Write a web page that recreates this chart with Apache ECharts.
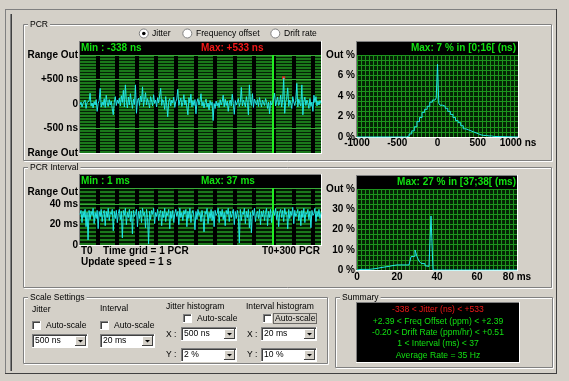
<!DOCTYPE html>
<html><head><meta charset="utf-8"><title>PCR</title>
<script src="https://cdn.jsdelivr.net/npm/echarts@6.0.0/dist/echarts.min.js"></script>
<style>html,body{margin:0;padding:0;background:#d4d0c8;overflow:hidden}#chart{width:569px;height:381px}</style>
</head><body><div id="chart"></div><script>
// ---- data ----
const jitterNs = [
 -20, 40, -60, 10, -30, 80, -90, 30, -10, 60, 220, -40, 20, -80, 50, -20, 90, -150, 10, 70,
 320, -60, 40, -30, 110, -70, 180, 20, -50, 90, -20, 60, -100, -220, 40, 150, -30, 80, 10, 120,
 -40, 170, 30, 280, -60, 390, 60, -80, 140, -20, 210, 40, -90, 100, -10, 390, -190, 70, 120, -30,
 160, 40, 350, -50, 90, 230, -20, 110, 30, -80, 150, 60, -40, 190, 10, 80, -60, 130, 20, 60,
 320, -30, 90, 40, -110, 150, -20, -260, 60, 110, -40, 80, 20, 140, -70, 50, 100, 300, -30, 60,
 120, -50, 30, 190, -20, 80, 40, -220, 130, 20, 200, -60, 70, -30, 90, -200, 40, 110, -20, 60,
 210, -40, 50, -80, 30, 100, -60, 20, -120, 70, -30, 40, -338, 10, -90, 60, -40, 30, -70, 90,
 -20, 50, 180, -60, 100, -30, 60, -150, 20, 80, -40, 200, 10, -210, 70, -20, 40, 110, -50, 30,
 340, -40, 80, 20, -60, 150, 30, -220, 390, 60, -30, 210, -70, 100, 40, -20, 90, -50, 130, 30,
 -60, 80, 20, -30, 110, 50, -90, 40, -200, 60, -20, 30, 100, 220, -40, 60, 140, -30, 20, 180,
 -60, 90, 533, -190, 40, 120, 330, -50, 80, 20, -90, 150, 40, -30, 70, 420, -60, 100, 10, -40,
 390, -220, 60, 140, -30, 80, 20, -90, 110, -50, 40, -150, 180, 30, 150, -40, 60, -20, 70, 10
];
const intervalMs = [
 30, 34, 22, 33, 27, 35, 18, 32, 5, 34, 25, 33, 29, 36, 21, 32, 26, 34, 16, 33,
 28, 35, 23, 31, 34, 19, 33, 27, 36, 24, 32, 30, 35, 14, 33, 26, 34, 22, 31, 35,
 25, 33, 7, 34, 29, 36, 20, 32, 27, 35, 23, 33, 11, 34, 28, 31, 35, 18, 33, 26,
 34, 22, 36, 29, 32, 17, 35, 27, 1, 33, 25, 34, 30, 36, 21, 32, 28, 35, 24, 31,
 34, 19, 33, 27, 36, 23, 32, 29, 35, 16, 33, 26, 34, 22, 31, 35, 28, 33, 20, 36,
 27, 32, 24, 34, 30, 35, 18, 33, 26, 36, 22, 31, 34, 28, 15, 33, 25, 35, 29, 32,
 23, 34, 27, 13, 33, 30, 36, 21, 32, 26, 35, 24, 33, 18, 34, 29, 31, 36, 22, 33,
 28, 35, 25, 32, 19, 34, 30, 36, 23, 33, 27, 31, 35, 20, 33, 26, 34, 29, 2, 35,
 24, 32, 30, 36, 21, 33, 27, 35, 17, 32, 12, 34, 29, 36, 23, 31, 33, 26, 35, 20,
 33, 28, 34, 24, 32, 36, 19, 33, 27, 35, 22, 31, 34, 29, 36, 25, 33, 18, 32, 35,
 27, 34, 23, 36, 30, 32, 16, 35, 26, 33, 29, 37, 21, 34, 28, 31, 35, 24, 33, 19,
 34, 27, 36, 22, 32, 30, 35, 25, 33, 17, 34, 29, 31, 36, 23, 33, 28, 35, 26, 32
];
const cursorIndex = 191;
const jitterHistEdges = [-1000, -384, -352, -320, -288, -256, -224, -192, -160, -128, -96, -64, -32, -16, 0, 16, 32, 64, 96, 128, 160, 192, 224, 256, 288, 320, 352, 384, 416, 448, 480, 512, 544, 576, 608, 640, 672, 704, 1000];
const jitterHistPct   = [0, 0.1, 0.3, 0.6, 1.0, 1.5, 1.9, 2.4, 2.7, 3.0, 3.4, 3.6, 3.7, 3.8, 7.1, 3.3, 3.1, 3.0, 2.8, 2.5, 2.2, 1.9, 1.6, 1.4, 1.1, 0.8, 0.7, 0.6, 0.5, 0.4, 0.3, 0.2, 0.15, 0.15, 0.1, 0.1, 0.05, 0, 0];
const intervalHistEdges = [0, 1, 2, 3, 4, 5, 6, 7, 8, 9, 10, 11, 12, 13, 14, 15, 16, 17, 18, 19, 20, 21, 22, 23, 24, 25, 26, 27, 28, 29, 30, 31, 32, 33, 34, 35, 36, 37, 38, 80];
const intervalHistPct   = [0, 0.3, 0.3, 0.3, 0.2, 0.3, 0.3, 0.5, 0.6, 0.8, 1.0, 1.2, 1.3, 1.5, 1.6, 1.8, 2.0, 2.2, 2.4, 2.5, 2.5, 2.5, 2.6, 2.5, 2.6, 2.5, 2.6, 6.6, 6.8, 9.9, 6.6, 4.4, 3.3, 3.1, 2.1, 1.8, 1.1, 26.7, 0, 0];
const jitterYLabels = ['Range Out', '-500 ns', '0', '+500 ns', 'Range Out'];
const intervalYLabels = {0: '0', 20: '20 ms', 40: '40 ms', 52: 'Range Out'};
const jitterHistXLabels = ['-1000', '-500', '0', '500', '1000 ns'];
const jitterHistYLabels = ['0 %', '2 %', '4 %', '6 %', 'Out %'];
const intervalHistXLabels = ['0', '20', '40', '60', '80 ms'];
const intervalHistYLabels = ['0 %', '10 %', '20 %', '30 %', 'Out %'];
const summaryLines = ['-338 < Jitter (ns) < +533', '+2.39 < Freq Offset (ppm) < +2.39', '-0.20 < Drift Rate (ppm/hr) < +0.51', '1 < Interval (ms) < 37', 'Average Rate = 35 Hz'];

// ---- styling helpers ----
const BG='#d4d0c8', SH='#808080', DSH='#404040', HL='#ffffff';
const GREEN='#12e012', RED='#f01818', CYAN='#22e6e6';
const BF="'Liberation Sans',Arial,sans-serif";
const NF="'Liberation Sans Narrow','Liberation Sans',Arial,sans-serif";
const mc=document.createElement('canvas').getContext('2d');
function tw(s,f){mc.font=f;return mc.measureText(s).width;}
const nSize=+(10*63.5/tw('Frequency offset','10px '+NF)).toFixed(2);
const sSize=+(10*132/tw(summaryLines[2],'10px '+NF)).toFixed(2);
const els=[];
function L(x1,y1,x2,y2,c,w,z){els.push({type:'line',silent:true,z:z??1,shape:{x1,y1,x2,y2},style:{stroke:c,lineWidth:w||1}});}
function R(x,y,w,h,f,z){els.push({type:'rect',silent:true,z:z??0,shape:{x,y,width:w,height:h},style:{fill:f}});}
function SR(x,y,w,h,c,z,dash){els.push({type:'rect',silent:true,z:z??1,shape:{x,y,width:w,height:h},style:{fill:'none',stroke:c,lineWidth:1,lineDash:dash||null}});}
function T(x,y,s,o){o=o||{};const font=(o.b?'bold ':'')+(o.s||(o.b?10:nSize))+'px '+(o.b?BF:NF);const a=o.a||'left';
 els.push({type:'text',silent:true,z:o.z??3,x,y,style:{text:s,fill:o.c||'#000',font,align:a,verticalAlign:'middle',textAlign:a,textVerticalAlign:'middle'}});}
function GB(x,y,w,h,label){SR(x+1.5,y+1.5,w-1,h-1,HL);SR(x+0.5,y+0.5,w-1,h-1,SH);
 const lw=tw(label,nSize+'px '+NF);R(x+5,y-4,lw+4,9,BG,2);T(x+7,y+0.5,label);}
function RB(cx,cy,sel){els.push({type:'circle',silent:true,z:1,shape:{cx,cy,r:4.5},style:{fill:'#fff',stroke:SH,lineWidth:1}});
 if(sel)els.push({type:'circle',silent:true,z:2,shape:{cx,cy,r:1.8},style:{fill:'#000'}});}
function CB(x,y){R(x,y,9,9,'#fff',1);L(x,y+0.5,x+9,y+0.5,SH,1,2);L(x+0.5,y,x+0.5,y+9,SH,1,2);L(x+1,y+1.5,x+8,y+1.5,DSH,1,2);L(x+1.5,y+1,x+1.5,y+8,DSH,1,2);L(x,y+8.5,x+9,y+8.5,HL,1,2);L(x+8.5,y,x+8.5,y+9,HL,1,2);}
function CO(x,y,w,h,label){R(x,y,w,h,'#fff',1);
 L(x,y+0.5,x+w,y+0.5,SH,1,2);L(x+0.5,y,x+0.5,y+h,SH,1,2);L(x+1,y+1.5,x+w-1,y+1.5,DSH,1,2);L(x+1.5,y+1,x+1.5,y+h-1,DSH,1,2);
 L(x,y+h-0.5,x+w,y+h-0.5,HL,1,2);L(x+w-0.5,y,x+w-0.5,y+h,HL,1,2);
 const bx=x+w-13,by=y+2,bw=11,bh=h-4;R(bx,by,bw,bh,BG,2);
 L(bx,by+0.5,bx+bw,by+0.5,HL,1,3);L(bx+0.5,by,bx+0.5,by+bh,HL,1,3);L(bx,by+bh-0.5,bx+bw,by+bh-0.5,DSH,1,3);L(bx+bw-0.5,by,bx+bw-0.5,by+bh,DSH,1,3);
 els.push({type:'polygon',silent:true,z:3,shape:{points:[[bx+3,by+4],[bx+8,by+4],[bx+5.5,by+6.5]]},style:{fill:'#000'}});
 T(x+3,y+h/2,label);}
function SUNK(x,y,w,h){L(x-1,y-0.5,x+w+1,y-0.5,SH);L(x-0.5,y-1,x-0.5,y+h+1,SH);L(x-1,y+h+0.5,x+w+1,y+h+0.5,HL);L(x+w+0.5,y-1,x+w+0.5,y+h+1,HL);}

// window frame
L(5,9.5,557,9.5,SH);L(5.5,9,5.5,374,SH);L(5,373.5,557,373.5,DSH);L(556.5,9,556.5,374,DSH);
L(10.5,14,10.5,371,SH);L(11.5,14,11.5,371,DSH);
// PCR group
GB(23,24,529,137,'PCR');
RB(143.8,33.5,true);T(152,33.5,'Jitter');RB(187.3,33.5);T(196,33.5,'Frequency offset');RB(275.3,33.5);T(284,33.5,'Drift rate');
R(80,42,241,13,'#000');SUNK(80,42,241,111);
T(81,48.5,'Min : -338 ns',{b:1,c:GREEN});T(201,48.5,'Max: +533 ns',{b:1,c:RED});
R(357,42,161,13,'#000');SUNK(357,42,161,95);
T(516,48.5,'Max: 7 % in [0;16[ (ns)',{b:1,c:GREEN,a:'right'});
// PCR Interval group
GB(23,167,529,121,'PCR Interval');
R(80,175,241,13,'#000');SUNK(80,175,241,70);
T(81,181.5,'Min : 1 ms',{b:1,c:GREEN});T(201,181.5,'Max: 37 ms',{b:1,c:GREEN});
R(357,176,161,13,'#000');SUNK(357,176,160,94);
T(516,182.5,'Max: 27 % in [37;38[ (ms)',{b:1,c:GREEN,a:'right'});
T(81,251,'T0',{b:1});T(103,251,'Time grid = 1 PCR',{b:1});T(320,251,'T0+300 PCR',{b:1,a:'right'});T(81,262.5,'Update speed = 1 s',{b:1});
// Scale settings
GB(23,297,305,67,'Scale Settings');
T(32,310,'Jitter');T(100,308.5,'Interval');T(166,306.5,'Jitter histogram');T(246,306.5,'Interval histogram');
CB(32,321);T(46,326,'Auto-scale');CB(100,321);T(114,326,'Auto-scale');
CB(183,314);T(197,318.5,'Auto-scale');CB(263,314);T(275,318.5,'Auto-scale');SR(273.5,313.5,43,10,'#000',3,[1,1]);
CO(32,334,56,14,'500 ns');CO(100,334,55,14,'20 ms');
T(166,334.5,'X :');CO(181,327,56,14,'500 ns');T(166,354.5,'Y :');CO(181,348,56,14,'2 %');
T(247,334.5,'X :');CO(261,327,56,14,'20 ms');T(247,354.5,'Y :');CO(261,348,56,14,'10 %');
// Summary
GB(335,297,218,71,'Summary');
R(357,303,162,59,'#000');SUNK(357,303,162,59);
summaryLines.forEach((s,i)=>T(438,310+i*11.3,s,{a:'center',c:i===0?RED:GREEN,s:sSize}));

// ---- chart ----
const LBL={fontFamily:BF,fontWeight:'bold',fontSize:10,color:'#000'};
const hide={show:false};
const GRIDC='#1c941c', BRIGHT='#38ac38', CLEAR='rgba(0,0,0,0)';
const near=(v,m)=>Math.abs(v/m-Math.round(v/m))<1e-6;
const ivSplit=[];for(let i=0;i<15;i++)ivSplit.push(i===10||i===14?BRIGHT:CLEAR);
const cursor={silent:true,symbol:['none','none'],label:{show:false},lineStyle:{color:'#22ee22',width:2,type:'solid'},data:[{xAxis:cursorIndex}]};
const option={
 backgroundColor:BG,animation:false,
 graphic:{elements:els},
 grid:[
  {left:80,top:55,width:241,height:98,show:true,backgroundColor:'#062806',borderWidth:0},
  {left:80,top:188,width:241,height:57,show:true,backgroundColor:'#041c04',borderWidth:0},
  {left:357,top:55,width:161,height:82,show:true,backgroundColor:'#042404',borderWidth:0},
  {left:357,top:189,width:160,height:81,show:true,backgroundColor:'#042404',borderWidth:0},
  {left:77.7,top:55,width:243.3,height:98},
  {left:77.7,top:188,width:243.3,height:57}
 ],
 xAxis:[
  {gridIndex:0,type:'value',min:0,max:jitterNs.length-1,show:false},
  {gridIndex:1,type:'value',min:0,max:intervalMs.length-1,show:false},
  {gridIndex:2,type:'value',min:-1000,max:1000,interval:50,axisLine:hide,axisTick:hide,
   axisLabel:{...LBL,margin:1,formatter:v=>near(v,500)?jitterHistXLabels[Math.round((v+1000)/500)]:''},
   splitLine:{show:true,lineStyle:{color:GRIDC,width:1}}},
  {gridIndex:3,type:'value',min:0,max:80,interval:2,axisLine:hide,axisTick:hide,
   axisLabel:{...LBL,margin:2,formatter:v=>near(v,20)?intervalHistXLabels[Math.round(v/20)]:''},
   splitLine:{show:true,lineStyle:{color:GRIDC,width:1}}},
  {gridIndex:4,type:'value',min:0,max:243.3,interval:19.6,z:2,axisLine:hide,axisTick:hide,axisLabel:hide,
   splitLine:{show:true,showMinLine:false,showMaxLine:false,lineStyle:{color:'#000',width:4}}},
  {gridIndex:5,type:'value',min:0,max:243.3,interval:19.6,z:2,axisLine:hide,axisTick:hide,axisLabel:hide,
   splitLine:{show:true,showMinLine:false,showMaxLine:false,lineStyle:{color:'#000',width:4}}}
 ],
 yAxis:[
  {gridIndex:0,type:'value',min:-1000,max:1000,interval:500,z:3,axisLine:hide,axisTick:hide,
   axisLabel:{...LBL,margin:2,formatter:v=>jitterYLabels[Math.round((v+1000)/500)]},
   splitLine:{show:true,lineStyle:{color:[CLEAR,BRIGHT,CLEAR,BRIGHT,BRIGHT],width:1}}},
  {gridIndex:0,type:'value',position:'right',min:0,max:98,interval:1,z:1,axisLine:hide,axisTick:hide,axisLabel:hide,splitLine:hide,
   splitArea:{show:true,areaStyle:{color:['#1b781b','#1b781b','#052205']}}},
  {gridIndex:1,type:'value',min:0,max:56,interval:4,z:3,axisLine:hide,axisTick:hide,
   axisLabel:{...LBL,margin:2,formatter:v=>intervalYLabels[Math.round(v)]??''},
   splitLine:{show:true,lineStyle:{color:ivSplit,width:1}}},
  {gridIndex:1,type:'value',position:'right',min:0,max:57,interval:1,z:1,axisLine:hide,axisTick:hide,axisLabel:hide,splitLine:hide,
   splitArea:{show:true,areaStyle:{color:['#1b781b','#1b781b','#031803','#031803']}}},
  {gridIndex:2,type:'value',min:0,max:8,interval:0.5,axisLine:hide,axisTick:hide,
   axisLabel:{...LBL,margin:2,formatter:v=>near(v,2)?jitterHistYLabels[Math.round(v/2)]:''},
   splitLine:{show:true,lineStyle:{color:GRIDC,width:1}}},
  {gridIndex:3,type:'value',min:0,max:40,interval:2.5,axisLine:hide,axisTick:hide,
   axisLabel:{...LBL,margin:2,formatter:v=>near(v,10)?intervalHistYLabels[Math.round(v/10)]:''},
   splitLine:{show:true,lineStyle:{color:GRIDC,width:1}}},
  {gridIndex:4,type:'value',show:false},
  {gridIndex:5,type:'value',show:false}
 ],
 series:[
  {type:'line',xAxisIndex:0,yAxisIndex:0,data:jitterNs.map((v,i)=>[i,v]),symbol:'none',z:5,lineStyle:{color:CYAN,width:1},
   markLine:cursor,
   markPoint:{symbol:'rect',symbolSize:3,itemStyle:{color:'#ff2020'},label:{show:false},data:[{type:'max'}]}},
  {type:'line',xAxisIndex:1,yAxisIndex:2,data:intervalMs.map((v,i)=>[i,v]),symbol:'none',z:5,lineStyle:{color:CYAN,width:1},markLine:cursor},
  {type:'line',xAxisIndex:2,yAxisIndex:4,step:'end',symbol:'none',z:5,lineStyle:{color:CYAN,width:1},
   data:jitterHistEdges.map((e,i)=>[e,jitterHistPct[i]])},
  {type:'line',xAxisIndex:3,yAxisIndex:5,step:'end',symbol:'none',z:5,lineStyle:{color:CYAN,width:1},
   data:intervalHistEdges.map((e,i)=>[e,intervalHistPct[i]])}
 ]
};
const chart=echarts.init(document.getElementById('chart'),null,{renderer:'canvas'});
chart.setOption(option);
</script></body></html>
